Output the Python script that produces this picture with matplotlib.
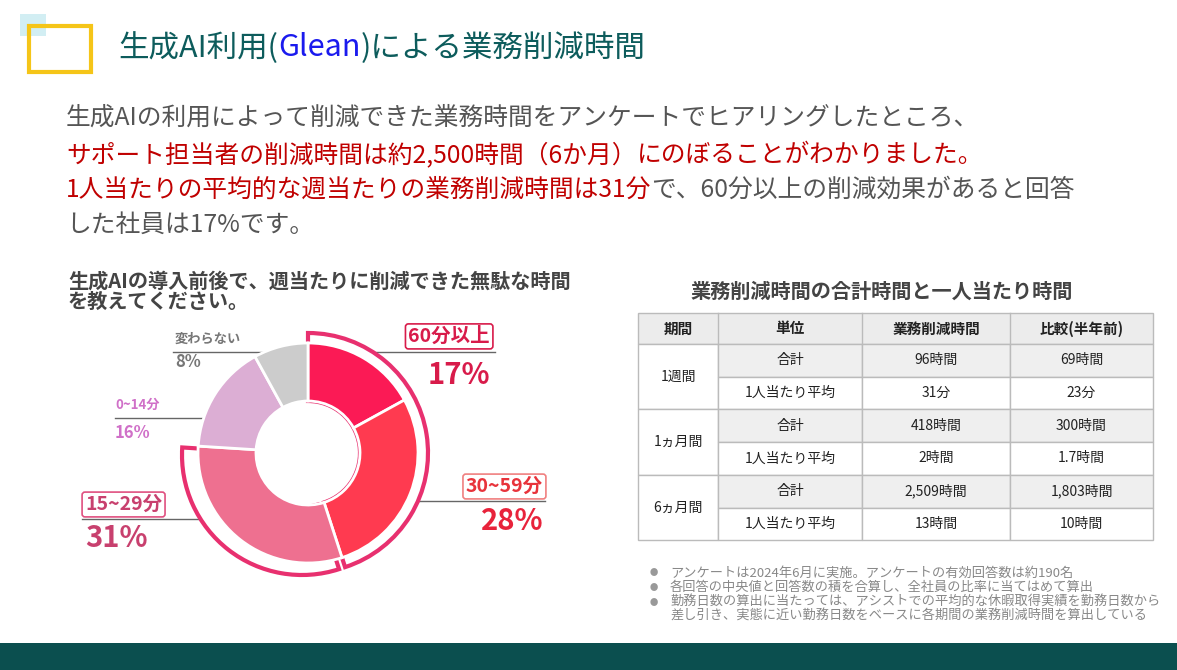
import matplotlib
matplotlib.use("Agg")
import matplotlib.pyplot as plt
from matplotlib.patches import Wedge, Rectangle

plt.rcParams["font.family"] = "Noto Sans CJK JP"

labels = ["60分以上", "30~59分", "15~29分", "0~14分", "変わらない"]
shares = [17, 28, 31, 16, 8]
colors = ["#fb1a55", "#ff3a50", "#ee7090", "#dcaed4", "#cccccc"]

tbl_header = ["期間", "単位", "業務削減時間", "比較(半年前)"]
periods = ["1週間", "1ヵ月間", "6ヵ月間"]
units = ["合計", "1人当たり平均"]
cur_vals = ["96時間", "31分", "418時間", "2時間", "2,509時間", "13時間"]
prev_vals = ["69時間", "23分", "300時間", "1.7時間", "1,803時間", "10時間"]

W, H = 1177, 670
fig = plt.figure(figsize=(W/100, H/100), dpi=100)
ax = fig.add_axes([0, 0, 1, 1])
ax.set_xlim(0, W); ax.set_ylim(H, 0); ax.axis("off")

# decorations
ax.add_patch(Rectangle((20, 14), 26, 22, facecolor="#bfe8ee", edgecolor="none", alpha=0.7))
ax.add_patch(Rectangle((29, 26), 62, 46, fill=False, edgecolor="#f5c518", lw=3))
ax.add_patch(Rectangle((0, 643), W, 27, facecolor="#0b4f4f", edgecolor="none"))

fig.canvas.draw()
r = fig.canvas.get_renderer()

def multi(x, y, parts, size, weight="normal"):
    for s, c in parts:
        t = ax.text(x, y, s, color=c, fontsize=size, va="center", ha="left", fontweight=weight)
        bb = t.get_window_extent(renderer=r)
        x += bb.width

teal = "#0d5c5c"
multi(118, 48, [("生成AI利用(", teal), ("Glean", "#1a1aee"), (")による業務削減時間", teal)], 22)

gray = "#555555"; red = "#c00000"
fs = 17.8
multi(66, 118, [("生成AIの利用によって削減できた業務時間をアンケートでヒアリングしたところ、", gray)], fs)
multi(66, 155, [("サポート担当者の削減時間は約2,500時間（6か月）", red), ("にのぼることがわかりました。", red)], fs)
multi(66, 190, [("1人当たりの平均的な週当たりの業務削減時間は31分", red), ("で、60分以上の削減効果があると回答", gray)], fs)
multi(66, 225, [("した社員は17%です。", gray)], fs)

ax.text(68, 281, "生成AIの導入前後で、週当たりに削減できた無駄な時間", fontsize=14.5,
        fontweight="bold", color="#444444", va="center")
ax.text(68, 301, "を教えてください。", fontsize=14.5,
        fontweight="bold", color="#444444", va="center")

# donut
cx, cy = 308, 453
S = 300
dax = fig.add_axes([(cx - S/2)/W, (H - cy - S/2)/H, S/W, S/H])
dax.set_xlim(-1.5, 1.5); dax.set_ylim(-1.5, 1.5); dax.set_aspect("equal"); dax.axis("off")
ro, ri = 1.1, 0.52
outline = "#e8306f"
cum = [0]
for s in shares:
    cum.append(cum[-1] + s)
ang = lambda p: 90 - p * 3.6
dax.add_patch(Wedge((0, 0), ro + 0.1, ang(cum[2]), ang(cum[0]), width=ro + 0.1 - ri,
                    facecolor="white", edgecolor=outline, lw=3))
dax.add_patch(Wedge((-0.06, -0.02), ro + 0.1, ang(cum[3]), ang(cum[2]), width=ro + 0.1 - ri,
                    facecolor="white", edgecolor=outline, lw=3))
for i, s in enumerate(shares):
    dax.add_patch(Wedge((0, 0), ro, ang(cum[i+1]), ang(cum[i]), width=ro - ri,
                        facecolor=colors[i], edgecolor="white", lw=2))

# labels
ax.plot([365, 495], [352, 352], color="#666666", lw=1)
ax.plot([365, 365], [352, 378], color="#666666", lw=1)
ax.text(490, 346, labels[0], color="#d81b4a", fontsize=14, fontweight="bold", ha="right", va="bottom",
        bbox=dict(boxstyle="round,pad=0.15", fc="white", ec="#d81b4a", lw=1.2))
ax.text(490, 360, f"{shares[0]}%", color="#d81b4a", fontsize=21, fontweight="bold", ha="right", va="top")
ax.plot([395, 545], [501, 501], color="#666666", lw=1)
ax.text(543, 496, labels[1], color="#e8333b", fontsize=14, fontweight="bold", ha="right", va="bottom",
        bbox=dict(boxstyle="round,pad=0.15", fc="white", ec="#f08080", lw=1.2))
ax.text(543, 506, f"{shares[1]}%", color="#e8233b", fontsize=21, fontweight="bold", ha="right", va="top")
ax.plot([82, 238], [519, 519], color="#666666", lw=1)
ax.text(85, 514, labels[2], color="#c8406e", fontsize=14, fontweight="bold", ha="left", va="bottom",
        bbox=dict(boxstyle="round,pad=0.15", fc="white", ec="#e05080", lw=1.2))
ax.text(85, 523, f"{shares[2]}%", color="#c8406e", fontsize=21, fontweight="bold", ha="left", va="top")
ax.plot([115, 237], [418, 418], color="#666666", lw=1)
ax.text(115, 412, labels[3], color="#d070c8", fontsize=9.5, fontweight="bold", ha="left", va="bottom")
ax.text(115, 424, f"{shares[3]}%", color="#d070c8", fontsize=12, fontweight="bold", ha="left", va="top")
ax.plot([173, 283], [352, 352], color="#666666", lw=1)
ax.plot([283, 283], [352, 372], color="#666666", lw=1)
ax.text(175, 346, labels[4], color="#777777", fontsize=9.5, fontweight="bold", ha="left", va="bottom")
ax.text(175, 353, f"{shares[4]}%", color="#777777", fontsize=12, fontweight="bold", ha="left", va="top")

# table
ax.text(882, 291, "業務削減時間の合計時間と一人当たり時間", fontsize=14.5, fontweight="bold", color="#444444",
        ha="center", va="center")
xs = [638, 718, 862, 1010, 1153]
y0, hh, rh = 313, 31, 32.7
lc = "#bbbbbb"
ax.add_patch(Rectangle((xs[0], y0), xs[-1]-xs[0], hh, facecolor="#ececec", edgecolor=lc, lw=1))
for j, h in enumerate(tbl_header):
    ax.text((xs[j]+xs[j+1])/2, y0 + hh/2, h, fontsize=10.5, fontweight="bold", ha="center", va="center", color="#222")
    if j: ax.plot([xs[j]]*2, [y0, y0+hh], color=lc, lw=1)
for k, p in enumerate(periods):
    top = y0 + hh + 2*k*rh
    ax.add_patch(Rectangle((xs[0], top), xs[1]-xs[0], 2*rh, facecolor="white", edgecolor=lc, lw=1))
    ax.text((xs[0]+xs[1])/2, top + rh, p, fontsize=10, ha="center", va="center", color="#222")
    for u in range(2):
        yy = top + u*rh
        idx = 2*k + u
        fc = "#efefef" if u == 0 else "white"
        vals = [units[u], cur_vals[idx], prev_vals[idx]]
        for j in range(3):
            ax.add_patch(Rectangle((xs[j+1], yy), xs[j+2]-xs[j+1], rh, facecolor=fc, edgecolor=lc, lw=1))
            ax.text((xs[j+1]+xs[j+2])/2, yy + rh/2, vals[j], fontsize=10, ha="center", va="center", color="#222")

notes = ["アンケートは2024年6月に実施。アンケートの有効回答数は約190名",
         "各回答の中央値と回答数の積を合算し、全社員の比率に当てはめて算出",
         "勤務日数の算出に当たっては、アシストでの平均的な休暇取得実績を勤務日数から"]
for i, n in enumerate(notes):
    yy = 573 + i*14.5
    ax.text(650, yy, "●", fontsize=6, color="#999999", va="center")
    ax.text(670, yy, n, fontsize=9.5, color="#888888", va="center")
ax.text(670, 573 + 3*14.5, "差し引き、実態に近い勤務日数をベースに各期間の業務削減時間を算出している",
        fontsize=9.5, color="#888888", va="center")

fig.savefig("out.png", dpi=100)
